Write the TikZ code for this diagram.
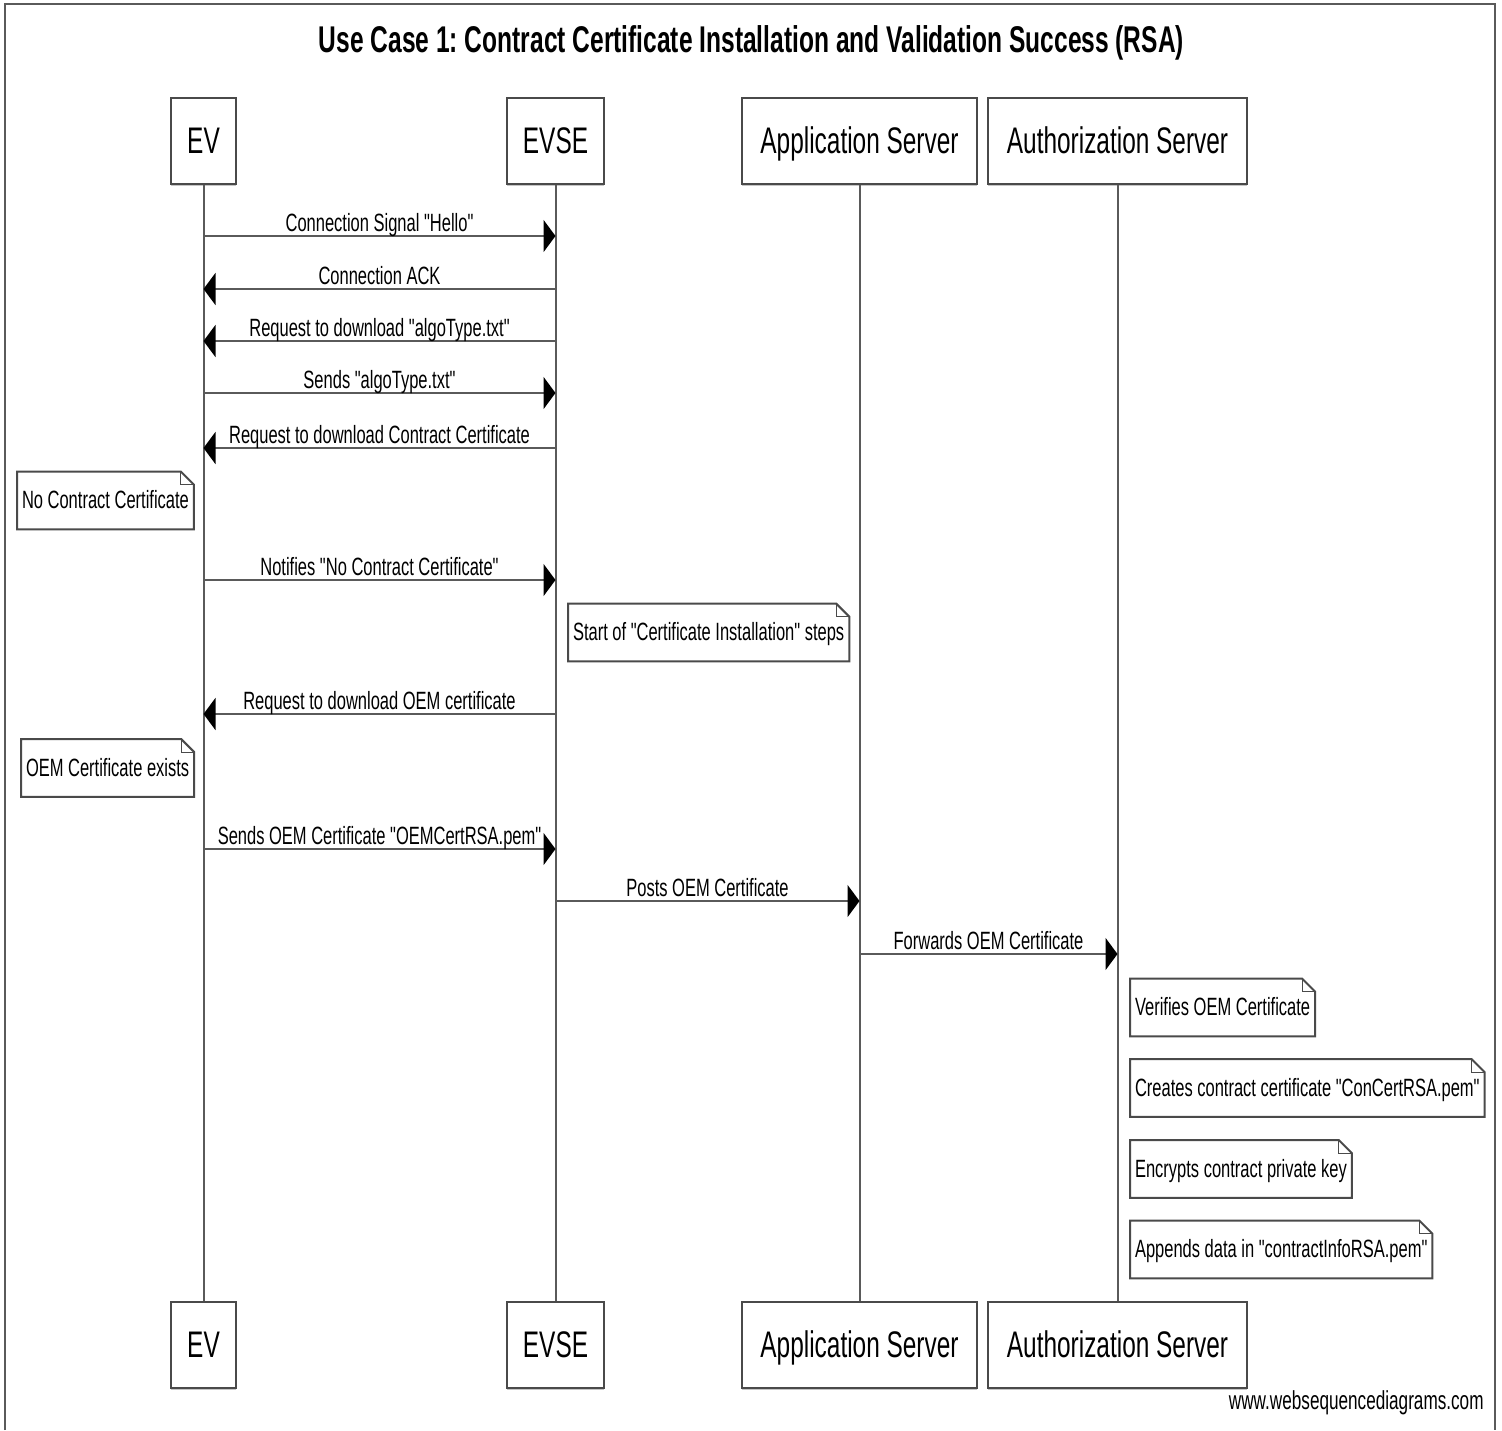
\documentclass[tikz,border=0pt]{standalone}
\usepackage{fontspec}
% narrow sans face without TeX quote ligatures, so " stays a straight quote
\newfontfamily\wsd{Liberation Sans}[FakeStretch=0.66]
\usetikzlibrary{arrows.meta,shadows}

\definecolor{linegray}{HTML}{5A5A5A}
\definecolor{boxgray}{HTML}{4A4A4A}

% outline of a note with a folded top-right corner
\newcommand\dogear[1]{%
  \draw[noteline] (#1.south west) -- (#1.north west) -- ([xshift=-6.5pt]#1.north east)
    -- ([yshift=-6.5pt]#1.north east) -- (#1.south east) -- cycle;
  \draw[noteline, line width=0.6pt] ([xshift=-6.5pt]#1.north east) |- ([yshift=-6.5pt]#1.north east);}

% message arrow between two lifelines at height #3
\newcommand\msgline[4]{%
  \draw[msg] (#1.south |- 0,#3) -- node[lbl]{#4} (#2.south |- 0,#3);}

\begin{document}
\frenchspacing
\begin{tikzpicture}[x=0.5pt, y=-0.5pt,
  actor/.style={draw=boxgray, line width=1pt, fill=white, minimum height=43pt,
    inner sep=0pt, text height=13pt, text depth=1pt,
    font=\wsd\fontsize{18.5}{22}\selectfont,
    drop shadow={shadow xshift=0pt, shadow yshift=-0.9pt, opacity=0.45}},
  life/.style={draw=linegray, line width=1pt},
  msg/.style={draw=linegray, line width=1pt, -{Triangle[length=6pt, width=16pt, color=black]}},
  lbl/.style={midway, anchor=base, yshift=2.5pt, inner sep=0pt, font=\wsd\fontsize{12.5}{15}\selectfont},
  memo/.style={anchor=west, fill=white, minimum height=28.5pt, inner xsep=2.3pt,
    inner ysep=0pt, text height=8.5pt, text depth=0.5pt,
    font=\wsd\fontsize{12.5}{15}\selectfont},
  noteline/.style={draw=boxgray, line width=1pt, line join=miter}
]
\useasboundingbox (0,0) rectangle (1502,1430);
\fill[white] (0,0) rectangle (1502,1430);

% frame
\draw[draw=linegray, line width=1pt] (5,1430) -- (5,4) -- (1495,4) -- (1495,1430);

% title
\node[font=\wsd\bfseries\fontsize{18.6}{22}\selectfont] (title) at (751.5,43)
  {Use Case 1: Contract Certificate Installation and Validation Success (RSA)};

% participants
\node[actor, minimum width=32.5pt]  (EV)   at (203.5,141) {EV};
\node[actor, minimum width=48.5pt]  (EVSE) at (555.5,141) {EVSE};
\node[actor, minimum width=117.5pt] (APP)  at (859.5,141) {Application Server};
\node[actor, minimum width=129.5pt] (AUTH) at (1117.5,141) {Authorization Server};

\node[actor, minimum width=32.5pt]  (EVb)   at (203.5,1345) {EV};
\node[actor, minimum width=48.5pt]  (EVSEb) at (555.5,1345) {EVSE};
\node[actor, minimum width=117.5pt] (APPb)  at (859.5,1345) {Application Server};
\node[actor, minimum width=129.5pt] (AUTHb) at (1117.5,1345) {Authorization Server};

% lifelines
\draw[life] (EV.south) -- (EVb.north);
\draw[life] (EVSE.south) -- (EVSEb.north);
\draw[life] (APP.south) -- (APPb.north);
\draw[life] (AUTH.south) -- (AUTHb.north);

% messages
\msgline{EV}{EVSE}{236}{Connection Signal "Hello"}
\msgline{EVSE}{EV}{289}{Connection ACK}
\msgline{EVSE}{EV}{341}{Request to download "algoType.txt"}
\msgline{EV}{EVSE}{393}{Sends "algoType.txt"}
\msgline{EVSE}{EV}{448}{Request to download Contract Certificate}

\node[memo] (n1) at (17,500.5) {No Contract Certificate};
\dogear{n1}

\msgline{EV}{EVSE}{580}{Notifies "No Contract Certificate"}

\node[memo] (n2) at (568,632.5) {Start of "Certificate Installation" steps};
\dogear{n2}

\msgline{EVSE}{EV}{714}{Request to download OEM certificate}

\node[memo] (n3) at (21,768) {OEM Certificate exists};
\dogear{n3}

\msgline{EV}{EVSE}{849}{Sends OEM Certificate "OEMCertRSA.pem"}
\msgline{EVSE}{APP}{901}{Posts OEM Certificate}
\msgline{APP}{AUTH}{954}{Forwards OEM Certificate}

\node[memo] (n4) at (1130,1007.5) {Verifies OEM Certificate};
\dogear{n4}
\node[memo] (n5) at (1130,1088) {Creates contract certificate "ConCertRSA.pem"};
\dogear{n5}
\node[memo] (n6) at (1130,1169) {Encrypts contract private key};
\dogear{n6}
\node[memo] (n7) at (1130,1249.5) {Appends data in "contractInfoRSA.pem"};
\dogear{n7}

% footer
\node[anchor=base east, inner sep=0pt, font=\wsd\fontsize{13}{15}\selectfont] (wsd) at (1484,1409)
  {www.websequencediagrams.com};
\end{tikzpicture}
\end{document}
